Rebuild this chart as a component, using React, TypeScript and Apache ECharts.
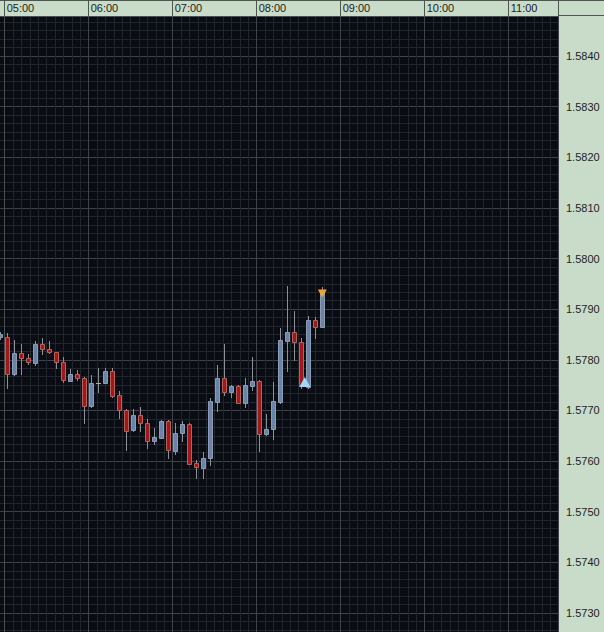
import React, { useEffect, useRef } from "react";
import * as echarts from "echarts";

// 5-minute candles (open time)
const TIMES = [
  "04:55", "05:00", "05:05", "05:10", "05:15", "05:20", "05:25", "05:30", "05:35", "05:40",
  "05:45", "05:50", "05:55", "06:00", "06:05", "06:10", "06:15", "06:20", "06:25", "06:30",
  "06:35", "06:40", "06:45", "06:50", "06:55", "07:00", "07:05", "07:10", "07:15", "07:20",
  "07:25", "07:30", "07:35", "07:40", "07:45", "07:50", "07:55", "08:00", "08:05", "08:10",
  "08:15", "08:20", "08:25", "08:30", "08:35", "08:40", "08:45",
];
const OPEN = [
  1.57845, 1.57846, 1.57771, 1.57813, 1.57803, 1.57793, 1.57831, 1.57821, 1.57815, 1.57795,
  1.57759, 1.57771, 1.57765, 1.57709, 1.57755, 1.57755, 1.57778, 1.57731, 1.57701, 1.57661,
  1.5769, 1.57675, 1.5764, 1.57646, 1.57679, 1.5762, 1.57655, 1.57673, 1.57596, 1.57587,
  1.57606, 1.57717, 1.57764, 1.57737, 1.57749, 1.57715, 1.57748, 1.57758, 1.57653, 1.57663,
  1.57717, 1.57838, 1.57854, 1.57836, 1.57747, 1.57879, 1.57865,
];
const CLOSE = [
  1.57851, 1.57771, 1.57813, 1.57803, 1.57795, 1.57831, 1.57821, 1.57815, 1.57795, 1.5776,
  1.57772, 1.57764, 1.57709, 1.57754, 1.57755, 1.57778, 1.57729, 1.57701, 1.57659, 1.5769,
  1.57675, 1.5764, 1.57647, 1.57679, 1.57621, 1.57655, 1.57673, 1.57595, 1.57588, 1.57606,
  1.57719, 1.57764, 1.57737, 1.57749, 1.57715, 1.5775, 1.57758, 1.57654, 1.57663, 1.57719,
  1.57839, 1.57854, 1.57835, 1.57748, 1.57879, 1.57865, 1.57938,
];
const LOW = [
  1.57841, 1.57745, 1.5777, 1.57771, 1.57791, 1.5779, 1.57811, 1.57813, 1.57784, 1.57757,
  1.57758, 1.5776, 1.57675, 1.57707, 1.57737, 1.57754, 1.57727, 1.57686, 1.57622, 1.57659,
  1.57659, 1.57626, 1.57634, 1.57645, 1.57606, 1.57613, 1.5764, 1.57594, 1.57567, 1.57567,
  1.57592, 1.57698, 1.57731, 1.57727, 1.57714, 1.57706, 1.5774, 1.57619, 1.57652, 1.57643,
  1.57714, 1.57777, 1.578, 1.57744, 1.57744, 1.57843, 1.57865,
];
const HIGH = [
  1.57855, 1.57853, 1.57839, 1.57831, 1.57811, 1.57838, 1.57843, 1.57838, 1.57816, 1.57805,
  1.57781, 1.57779, 1.57767, 1.57769, 1.57783, 1.57784, 1.57783, 1.57738, 1.57703, 1.57702,
  1.57707, 1.57683, 1.57665, 1.57681, 1.57681, 1.57675, 1.57679, 1.57675, 1.57602, 1.57617,
  1.57724, 1.5779, 1.57831, 1.5775, 1.5775, 1.57765, 1.57805, 1.5776, 1.57693, 1.57757,
  1.57863, 1.57946, 1.57897, 1.57843, 1.57887, 1.57884, 1.57944,
];

// trade arrows
const BUY_MARKER_TIME = "08:32:30";
const BUY_MARKER_PRICE = 1.57756;
const SELL_MARKER_TIME = "08:45";
const SELL_MARKER_PRICE = 1.57931;

// axis ranges
const SESSION_START_HOUR = 5;
const X_MIN = -60; // 04:00, minutes from 05:00
const X_MAX = 395.2;
const HOUR_STEP = 60;
const PRICE_MIN = 1.572;
const PRICE_MAX = 1.58479;
const PRICE_STEP = 0.001;
const FIRST_SHOWN_PRICE = 1.573;
const FIRST_SHOWN_HOUR = 5;

const CANDLE_SHIFT = 1.86;

// the chart canvas is larger than the visible window and shifted left
const OFF_X = 84;
const CANVAS_W = 604 + OFF_X;
const CANVAS_H = 664;

const PANEL = "#c9dbc9";
const PLOT_BG = "#0a0c14";
const MAJOR = "#3f434b";
const MINOR = "#20242c";
const BULL_FILL = "#6884ab";
const BULL_STROKE = "#8c9db3";
const BEAR_FILL = "#a1181a";
const BEAR_STROKE = "#b5615a";
const WICK = "#8d9196";
const FONT = "'Liberation Sans', Arial, sans-serif";

function toMinutes(s: string): number {
  const p = s.split(":").map(Number);
  return p[0] * 60 + p[1] + (p[2] || 0) / 60 - SESSION_START_HOUR * 60;
}

function pad(n: number) {
  return n < 10 ? "0" + n : "" + n;
}

export default function App() {
  const ref = useRef<HTMLDivElement>(null);

  useEffect(() => {
    if (!ref.current) return;
    const chart = echarts.init(ref.current, undefined, { renderer: "svg" });

    const candles = TIMES.map((t, i) => [toMinutes(t) + CANDLE_SHIFT, OPEN[i], CLOSE[i], LOW[i], HIGH[i]]);

    const renderItem = (params: any, api: any) => {
      const t = api.value(0);
      const o = api.value(1);
      const c = api.value(2);
      const l = api.value(3);
      const h = api.value(4);
      const px = api.coord([t, o]);
      const cx = Math.floor(px[0]) + 0.5;
      const yo = px[1];
      const yc = api.coord([t, c])[1];
      const yl = Math.round(api.coord([t, l])[1]);
      const yh = Math.round(api.coord([t, h])[1]);
      const yTop = Math.round(Math.min(yo, yc));
      const yBot = Math.round(Math.max(yo, yc));
      const bull = c >= o;
      const children: any[] = [
        {
          type: "line",
          shape: { x1: cx, y1: yh, x2: cx, y2: yl + 1 },
          style: { stroke: WICK, lineWidth: 1 },
        },
      ];
      if (o === c || yBot - yTop < 1) {
        children.push({
          type: "line",
          shape: { x1: cx - 2.5, y1: yTop + 0.5, x2: cx + 2.5, y2: yTop + 0.5 },
          style: { stroke: "#a7abb0", lineWidth: 1 },
        });
      } else {
        children.push({
          type: "rect",
          shape: { x: cx - 2, y: yTop + 0.5, width: 4, height: yBot - yTop },
          style: {
            fill: bull ? BULL_FILL : BEAR_FILL,
            stroke: bull ? BULL_STROKE : BEAR_STROKE,
            lineWidth: 1,
          },
        });
      }
      return { type: "group", children };
    };

    const option: any = {
      animation: false,
      backgroundColor: PANEL,
      textStyle: { fontFamily: FONT },
      grid: {
        left: 4.7,
        right: 46,
        top: 16,
        bottom: 0.4,
        show: true,
        backgroundColor: PLOT_BG,
        borderWidth: 0,
      },
      xAxis: {
        type: "value",
        position: "top",
        min: X_MIN,
        max: X_MAX,
        interval: HOUR_STEP,
        axisLine: { show: true, lineStyle: { color: "#46504a", width: 1 } },
        axisTick: { show: true, inside: false, length: 16, lineStyle: { color: "#4c564f", width: 1 } },
        axisLabel: {
          show: true,
          color: "#1e1e1e",
          fontSize: 11,
          fontFamily: FONT,
          align: "left",
          verticalAlign: "middle",
          margin: 8,
          padding: [0, 0, 0, 2],
          formatter: (v: number) => {
            if (Math.abs(v % HOUR_STEP) > 1e-6) return "";
            const h = SESSION_START_HOUR + v / HOUR_STEP;
            if (h < FIRST_SHOWN_HOUR) return "";
            return pad(h) + ":00";
          },
        },
        splitLine: { show: true, lineStyle: { color: MAJOR, width: 1 } },
        minorTick: { show: false, splitNumber: 10 },
        minorSplitLine: { show: true, lineStyle: { color: MINOR, width: 1 } },
      },
      yAxis: {
        type: "value",
        position: "right",
        min: PRICE_MIN,
        max: PRICE_MAX,
        interval: PRICE_STEP,
        axisLine: { show: true, lineStyle: { color: "#46504a", width: 1 } },
        axisTick: { show: false },
        axisLabel: {
          show: true,
          color: "#1e1e1e",
          fontSize: 11,
          fontFamily: FONT,
          margin: 8,
          formatter: (v: number) => {
            const k = v / PRICE_STEP;
            if (Math.abs(k - Math.round(k)) > 1e-6) return "";
            if (v < FIRST_SHOWN_PRICE - 1e-6) return "";
            return v.toFixed(4);
          },
        },
        splitLine: { show: true, lineStyle: { color: MAJOR, width: 1 } },
        minorTick: { show: false, splitNumber: 6 },
        minorSplitLine: { show: true, lineStyle: { color: MINOR, width: 1 } },
      },
      series: [
        {
          type: "custom",
          name: "GBPUSD M5",
          renderItem,
          encode: { x: 0, y: [1, 2, 3, 4] },
          data: candles,
          clip: true,
          z: 3,
        },
        {
          type: "scatter",
          name: "buy",
          symbol: "triangle",
          symbolSize: [11, 10],
          itemStyle: { color: "#a2d6fa", opacity: 1 },
          data: [[toMinutes(BUY_MARKER_TIME) + CANDLE_SHIFT, BUY_MARKER_PRICE]],
          z: 10,
          zlevel: 0,
        },
        {
          type: "scatter",
          name: "sell",
          symbol: "triangle",
          symbolRotate: 180,
          symbolSize: [9, 8],
          itemStyle: { color: "#f0a52c", opacity: 1 },
          data: [[toMinutes(SELL_MARKER_TIME) + CANDLE_SHIFT, SELL_MARKER_PRICE]],
          z: 10,
        },
      ],
      graphic: [
        { type: "line", z: 100, shape: { x1: 0, y1: 0.5, x2: CANVAS_W, y2: 0.5 }, style: { stroke: "#4c564f", lineWidth: 1 } },
        { type: "line", z: 100, shape: { x1: OFF_X + 558, y1: 15.5, x2: CANVAS_W, y2: 15.5 }, style: { stroke: "#4c564f", lineWidth: 1 } },
        { type: "line", z: 100, shape: { x1: OFF_X + 558.5, y1: 0, x2: OFF_X + 558.5, y2: 16 }, style: { stroke: "#4c564f", lineWidth: 1 } },
      ],
    };

    chart.setOption(option);
    return () => chart.dispose();
  }, []);

  return (
    <div
      style={{ position: "absolute", left: 0, top: 0, width: 604, height: 632, overflow: "hidden" }}
    >
      <div
        ref={ref}
        style={{ position: "absolute", left: -OFF_X, top: 0, width: CANVAS_W, height: CANVAS_H }}
      />
    </div>
  );
}
